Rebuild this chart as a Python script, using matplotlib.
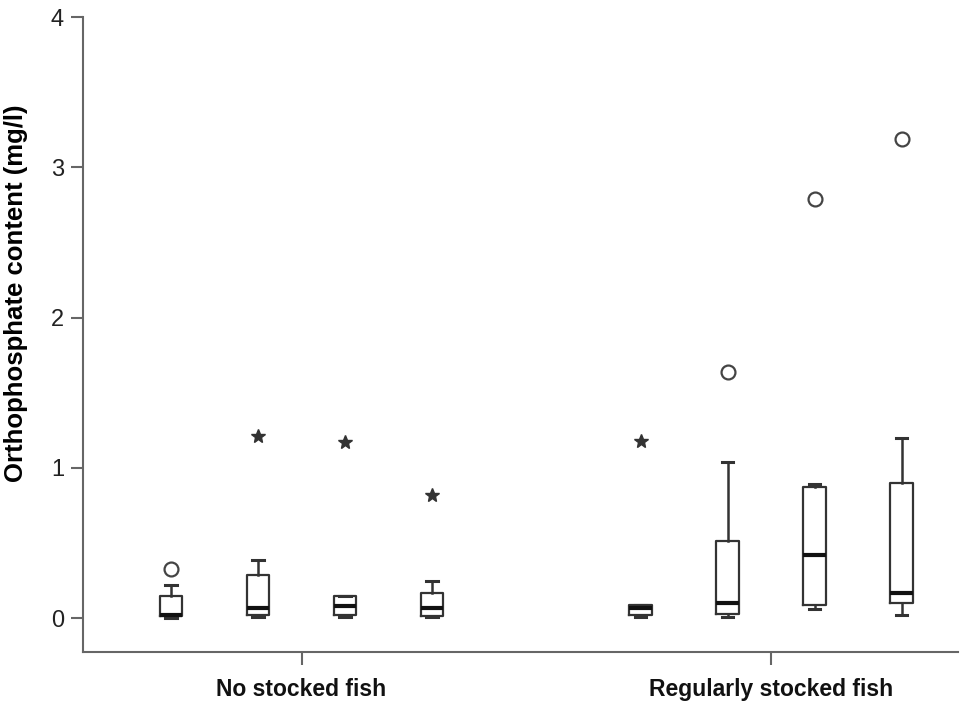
import matplotlib
matplotlib.use("Agg")
import matplotlib.pyplot as plt

# values (mg/l)
groups = ["No stocked fish", "Regularly stocked fish"]
q1 = [0.013, 0.02, 0.02, 0.013, 0.02, 0.027, 0.086, 0.10]
med = [0.02, 0.066, 0.08, 0.066, 0.066, 0.10, 0.42, 0.166]
q3 = [0.146, 0.29, 0.15, 0.166, 0.086, 0.51, 0.875, 0.90]
whislo = [0.0, 0.005, 0.005, 0.005, 0.01, 0.01, 0.06, 0.02]
whishi = [0.22, 0.39, 0.15, 0.245, 0.086, 1.04, 0.89, 1.20]
# outliers (circles) and extremes (stars), as (box index, value)
outliers = [(0, 0.33), (5, 1.64), (6, 2.79), (7, 3.19)]
extremes = [(1, 1.21), (2, 1.17), (3, 0.82), (4, 1.18)]

group_pos = [0.0, 5.4]
offsets = [-1.5, -0.5, 0.5, 1.5]
positions = [g + o for g in group_pos for o in offsets]

plt.rcParams["font.family"] = ["Liberation Sans", "DejaVu Sans"]

fig = plt.figure(figsize=(9.6, 7.01), dpi=100)
ax = fig.add_axes([82.7 / 960, 1 - 652 / 701, (958 - 82.7) / 960, (652 - 17) / 701])

stats = [
    {"q1": a, "med": m, "q3": b, "whislo": lo, "whishi": hi, "fliers": []}
    for a, m, b, lo, hi in zip(q1, med, q3, whislo, whishi)
]
box_col = "#333333"
ax.bxp(
    stats, positions=positions, widths=0.26, capwidths=0.13, showfliers=False,
    boxprops=dict(color=box_col, linewidth=1.6),
    whiskerprops=dict(color=box_col, linewidth=1.8),
    capprops=dict(color=box_col, linewidth=2.2),
    medianprops=dict(color="#111111", linewidth=3.0),
)

ax.plot([positions[i] for i, _ in outliers], [v for _, v in outliers], "o",
        ms=10, mfc="white", mec="#444444", mew=1.6, ls="none")
ax.plot([positions[i] for i, _ in extremes], [v for _, v in extremes], "*",
        ms=10.5, color="#333333", ls="none")

ax.set_xlim(-2.515, 7.546)
ax.set_ylim(-0.2255, 4)
ax.set_yticks([0, 1, 2, 3, 4])
ax.set_xticks(group_pos)
ax.set_xticklabels(groups, fontsize=16.5, fontweight="bold")
ax.set_ylabel("Orthophosphate content (mg/l)", fontsize=18.5, fontweight="bold")
ax.yaxis.set_label_coords(-0.0625, 0.565)

for side in ["top", "right"]:
    ax.spines[side].set_visible(False)
for side in ["left", "bottom"]:
    ax.spines[side].set_color("#666666")
    ax.spines[side].set_linewidth(1.5)
ax.tick_params(axis="y", length=8.5, width=1.5, color="#666666", labelsize=17, pad=5, labelcolor="#222222")
ax.tick_params(axis="x", length=9.4, width=1.5, color="#666666", pad=9.5, labelcolor="#111111")

fig.savefig("out.png", dpi=100)
